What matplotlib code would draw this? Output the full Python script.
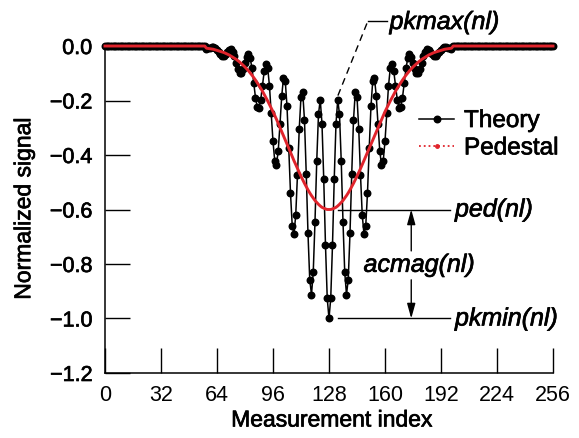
import matplotlib
matplotlib.use("Agg")
import matplotlib.pyplot as plt
import matplotlib.patheffects as pe
from matplotlib.lines import Line2D
from matplotlib.text import Text

plt.rcParams['font.family'] = ['Liberation Sans', 'DejaVu Sans']

# measurement index 0..256, non-zero part of both curves is 58..198
index = list(range(257))
core_start = 58

theory_core = [
    -0.011, -0.009, -0.006, -0.004, -0.004, -0.008, -0.015, -0.023, -0.031, -0.036,
    -0.036, -0.030, -0.021, -0.014, -0.012, -0.021, -0.038, -0.062, -0.085, -0.099,
    -0.099, -0.084, -0.061, -0.039, -0.030, -0.045, -0.082, -0.136, -0.189, -0.224,
    -0.227, -0.197, -0.145, -0.092, -0.065, -0.082, -0.147, -0.247, -0.350, -0.421,
    -0.435, -0.384, -0.287, -0.183, -0.118, -0.127, -0.220, -0.373, -0.539, -0.660,
    -0.691, -0.620, -0.472, -0.305, -0.186, -0.170, -0.273, -0.468, -0.688, -0.857,
    -0.912, -0.831, -0.645, -0.423, -0.250, -0.197, -0.285, -0.488, -0.731, -0.926,
    -1.000,
    -0.926, -0.731, -0.488, -0.285, -0.197, -0.250, -0.423, -0.645, -0.831, -0.912,
    -0.857, -0.688, -0.468, -0.273, -0.170, -0.186, -0.305, -0.472, -0.620, -0.691,
    -0.660, -0.539, -0.373, -0.220, -0.127, -0.118, -0.183, -0.287, -0.384, -0.435,
    -0.421, -0.350, -0.247, -0.147, -0.082, -0.065, -0.092, -0.145, -0.197, -0.227,
    -0.224, -0.189, -0.136, -0.082, -0.045, -0.030, -0.039, -0.061, -0.084, -0.099,
    -0.099, -0.085, -0.062, -0.038, -0.021, -0.012, -0.014, -0.021, -0.030, -0.036,
    -0.036, -0.031, -0.023, -0.015, -0.008, -0.004, -0.004, -0.006, -0.009, -0.011,
]

pedestal_core = [
    -0.008, -0.009, -0.010, -0.011, -0.012, -0.014, -0.016, -0.018, -0.020, -0.022,
    -0.024, -0.027, -0.030, -0.033, -0.037, -0.041, -0.045, -0.049, -0.054, -0.059,
    -0.065, -0.071, -0.077, -0.084, -0.091, -0.099, -0.107, -0.116, -0.125, -0.135,
    -0.145, -0.155, -0.166, -0.178, -0.190, -0.202, -0.215, -0.228, -0.241, -0.255,
    -0.269, -0.284, -0.299, -0.314, -0.329, -0.344, -0.360, -0.375, -0.390, -0.406,
    -0.421, -0.435, -0.450, -0.464, -0.478, -0.491, -0.504, -0.516, -0.528, -0.539,
    -0.549, -0.558, -0.567, -0.574, -0.581, -0.587, -0.592, -0.595, -0.598, -0.600,
    -0.600,
    -0.600, -0.598, -0.595, -0.592, -0.587, -0.581, -0.574, -0.567, -0.558, -0.549,
    -0.539, -0.528, -0.516, -0.504, -0.491, -0.478, -0.464, -0.450, -0.435, -0.421,
    -0.406, -0.390, -0.375, -0.360, -0.344, -0.329, -0.314, -0.299, -0.284, -0.269,
    -0.255, -0.241, -0.228, -0.215, -0.202, -0.190, -0.178, -0.166, -0.155, -0.145,
    -0.135, -0.125, -0.116, -0.107, -0.099, -0.091, -0.084, -0.077, -0.071, -0.065,
    -0.059, -0.054, -0.049, -0.045, -0.041, -0.037, -0.033, -0.030, -0.027, -0.024,
    -0.022, -0.020, -0.018, -0.016, -0.014, -0.012, -0.011, -0.010, -0.009, -0.008,
]

x_ticks = [0, 32, 64, 96, 128, 160, 192, 224, 256]
y_ticks = [0.0, -0.2, -0.4, -0.6, -0.8, -1.0, -1.2]

# annotation levels
ped_level = -0.6
pkmin_level = -1.0


def pad_core(core):
    tail = len(index) - core_start - len(core)
    return [0.0] * core_start + core + [0.0] * tail


theory = pad_core(theory_core)
pedestal = pad_core(pedestal_core)

RED = '#e0242c'

fig = plt.figure(figsize=(5.79, 4.39), dpi=100)
ax = fig.add_axes([0.1813, 0.1481, 0.7738, 0.7448])

ax.plot(index, theory, color='black', lw=1.1, marker='o', ms=4.7,
        clip_on=False, zorder=3)
ax.plot(index, pedestal, color=RED, lw=2.1, clip_on=False, zorder=4)

ax.set_xlim(0, 256)
ax.set_ylim(-1.2, 0.0)
ax.set_xticks(x_ticks)
ax.set_yticks(y_ticks)
ax.set_yticklabels([f"{v:.1f}".replace('-', '\u2212') for v in y_ticks])
ax.tick_params(direction='in', length=18, width=1.0, labelsize=15.5, pad=8)
ax.tick_params(axis='y', pad=9)
for side in ('top', 'right'):
    ax.spines[side].set_visible(False)
for side in ('left', 'bottom'):
    ax.spines[side].set_linewidth(1.1)

fig.text(0.573, 0.041, 'Measurement index', ha='center', va='center', fontsize=16.5)
fig.text(0.041, 0.522, 'Normalized signal', ha='center', va='center',
         rotation=90, fontsize=16.5)

handles = [
    Line2D([], [], color='black', lw=1.1, marker='o', ms=4.7),
    Line2D([], [], color=RED, lw=1.3, ls=':', marker='o', ms=2.5),
]
ax.legend(handles, ['Theory', 'Pedestal'], loc='upper left',
          bbox_to_anchor=(419 / 579, 1 - 111 / 439), bbox_transform=fig.transFigure,
          frameon=False, fontsize=17.5, handlelength=1.45, handletextpad=0.4,
          borderpad=0, borderaxespad=0, labelspacing=0.22, numpoints=1)

ann_font = dict(fontsize=18, style='italic', va='center', ha='left')

# pkmax leader: dashed slant plus short solid stub
ax.plot([133.1, 150.3], [-0.182, 0.093], color='black', lw=1.0,
        ls=(0, (5, 3.5)), clip_on=False)
ax.plot([150.3, 161.0], [0.093, 0.093], color='black', lw=1.0, clip_on=False)
ax.text(162.6, 0.088, 'pkmax(nl)', **ann_font)

# ped and pkmin reference lines
ax.plot([133, 197], [ped_level, ped_level], color='black', lw=1.0)
ax.plot([133, 197], [pkmin_level, pkmin_level], color='black', lw=1.0)
ax.text(200, ped_level, 'ped(nl)', **ann_font)
ax.text(200, pkmin_level, 'pkmin(nl)', **ann_font)

# acmag double arrow with text in the gap
arrow = dict(arrowstyle='-|>,head_length=0.9,head_width=0.25', color='black',
             lw=1.0, shrinkA=0, shrinkB=0)
ax.annotate('', xy=(175, ped_level), xytext=(175, -0.752), arrowprops=arrow)
ax.annotate('', xy=(175, pkmin_level), xytext=(175, -0.858), arrowprops=arrow)
ax.text(179.5, -0.803, 'acmag(nl)', fontsize=18, style='italic',
        va='center', ha='center')

# the original lettering is a little heavier than Liberation regular
for t in fig.findobj(Text):
    if t.get_text():
        t.set_path_effects([pe.withStroke(linewidth=0.5, foreground='black')])

fig.savefig('out.png', dpi=100)
